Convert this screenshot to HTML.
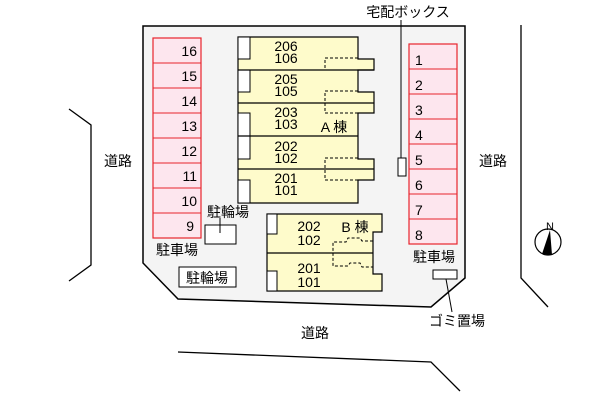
<!DOCTYPE html>
<html><head><meta charset="utf-8"><style>
html,body{margin:0;padding:0;background:#fff;}
svg{display:block;}
text{font-family:"Liberation Sans","Noto Sans CJK JP",sans-serif;font-size:14px;fill:#000;}
</style></head><body>
<svg width="600" height="400" viewBox="0 0 600 400" xmlns="http://www.w3.org/2000/svg">
<!-- roads -->
<polyline points="69,109 91,125 91,265 69,281" fill="none" stroke="#000" stroke-width="1.3"/>
<polyline points="521,25 521,278 548,307" fill="none" stroke="#000" stroke-width="1.3"/>
<polyline points="178,352 431,362 460,391" fill="none" stroke="#000" stroke-width="1.3"/>
<!-- site -->
<polygon points="143,26 465,26 465,278 431,307 178,299 143,263" fill="#f4f4f4" stroke="#000" stroke-width="1.5"/>
<!-- left parking -->
<rect x="153" y="38" width="48" height="200" fill="#fde6ee" stroke="#e8242c" stroke-width="1.2"/>
<g stroke="#e8242c" stroke-width="1">
<line x1="153" y1="63" x2="201" y2="63"/><line x1="153" y1="88" x2="201" y2="88"/>
<line x1="153" y1="113" x2="201" y2="113"/><line x1="153" y1="138" x2="201" y2="138"/>
<line x1="153" y1="163" x2="201" y2="163"/><line x1="153" y1="188" x2="201" y2="188"/>
<line x1="153" y1="213" x2="201" y2="213"/>
</g>
<g text-anchor="end">
<text x="197" y="56">16</text><text x="197" y="81">15</text><text x="197" y="106">14</text>
<text x="197" y="131">13</text><text x="197" y="156">12</text><text x="197" y="181">11</text>
<text x="197" y="206">10</text><text x="194" y="231">9</text>
</g>
<!-- right parking -->
<rect x="409" y="44" width="48" height="200" fill="#fde6ee" stroke="#e8242c" stroke-width="1.2"/>
<g stroke="#e8242c" stroke-width="1">
<line x1="409" y1="69" x2="457" y2="69"/><line x1="409" y1="94" x2="457" y2="94"/>
<line x1="409" y1="119" x2="457" y2="119"/><line x1="409" y1="144" x2="457" y2="144"/>
<line x1="409" y1="169" x2="457" y2="169"/><line x1="409" y1="194" x2="457" y2="194"/>
<line x1="409" y1="219" x2="457" y2="219"/>
</g>
<g>
<text x="415" y="65">1</text><text x="415" y="90">2</text><text x="415" y="115">3</text>
<text x="415" y="140">4</text><text x="415" y="165">5</text><text x="415" y="190">6</text>
<text x="415" y="215">7</text><text x="415" y="240">8</text>
</g>
<!-- delivery box -->
<line x1="401" y1="20" x2="401" y2="160" stroke="#000" stroke-width="1"/>
<rect x="398" y="158" width="8" height="18" fill="#fff" stroke="#000" stroke-width="1"/>
<text x="408" y="17" text-anchor="middle">宅配ボックス</text>
<!-- building A -->
<polygon points="238,37 358,37 358,59 374,59 374,70 358,70 358,92 374,92 374,113 358,113 358,159 374,159 374,180 358,180 358,203 238,203" fill="#fefbcb" stroke="#000" stroke-width="1.2"/>
<g fill="#fff" stroke="#000" stroke-width="1">
<rect x="238" y="37" width="12" height="22"/><rect x="238" y="70" width="12" height="22"/>
<rect x="238" y="113" width="12" height="23"/><rect x="238" y="136" width="12" height="23"/>
<rect x="238" y="180" width="12" height="23"/>
</g>
<g stroke="#000" stroke-width="1.2">
<line x1="238" y1="70" x2="374" y2="70"/>
<line x1="238" y1="103" x2="374" y2="103"/>
<line x1="238" y1="136" x2="358" y2="136"/>
<line x1="238" y1="169" x2="374" y2="169"/>
</g>
<g stroke="#000" stroke-width="1" fill="none" stroke-dasharray="3,2">
<polyline points="358,58 325,58 325,70"/>
<polyline points="358,91 325,91 325,113 358,113"/>
<polyline points="358,158 325,158 325,180 358,180"/>
</g>
<g text-anchor="middle">
<text x="286" y="51">206</text><text x="286" y="63">106</text>
<text x="286" y="84">205</text><text x="286" y="96">105</text>
<text x="286" y="117">203</text><text x="286" y="129">103</text>
<text x="286" y="151">202</text><text x="286" y="163">102</text>
<text x="286" y="183">201</text><text x="286" y="195">101</text>
<text x="334" y="132">A 棟</text>
</g>
<!-- building B -->
<polygon points="267,214 382,214 382,232 373,232 373,274 382,274 382,291 267,291" fill="#fefbcb" stroke="#000" stroke-width="1.2"/>
<line x1="267" y1="253" x2="373" y2="253" stroke="#000" stroke-width="1.2"/>
<g fill="#fff" stroke="#000" stroke-width="1">
<rect x="267" y="214" width="10" height="20"/><rect x="267" y="271" width="10" height="20"/>
</g>
<path d="M373,241 L362,241 L360,238 L348,238 L346,242 L333,242 L333,266 L348,266 L350,263 L360,263 L362,267 L373,267" fill="none" stroke="#000" stroke-width="1" stroke-dasharray="3,2"/>
<g text-anchor="middle">
<text x="309" y="231">202</text><text x="309" y="245">102</text>
<text x="355" y="232">B 棟</text>
<text x="309" y="273">201</text><text x="309" y="287">101</text>
</g>
<!-- bike parking -->
<rect x="205" y="225" width="31" height="19" fill="#fff" stroke="#000" stroke-width="1"/>
<line x1="220" y1="218" x2="220" y2="233" stroke="#000" stroke-width="1"/>
<text x="228" y="217" text-anchor="middle">駐輪場</text>
<rect x="179" y="267" width="57" height="20" fill="#fff" stroke="#000" stroke-width="1"/>
<text x="207" y="283" text-anchor="middle">駐輪場</text>
<text x="177" y="255" text-anchor="middle">駐車場</text>
<text x="434" y="262" text-anchor="middle">駐車場</text>
<!-- gomi -->
<rect x="433" y="270" width="24" height="9" fill="#fff" stroke="#000" stroke-width="1"/>
<line x1="446" y1="279" x2="452" y2="312" stroke="#000" stroke-width="1"/>
<text x="457" y="326" text-anchor="middle">ゴミ置場</text>
<!-- road labels -->
<text x="118" y="166" text-anchor="middle">道路</text>
<text x="493" y="166" text-anchor="middle">道路</text>
<text x="315" y="338" text-anchor="middle">道路</text>
<!-- compass -->
<circle cx="548" cy="242" r="13" fill="#fff" stroke="#000" stroke-width="1.2"/>
<polygon points="550,230 552,255 542,254" fill="#000"/>
<text x="550" y="230" text-anchor="middle" style="font-size:11px">N</text>
</svg>
</body></html>
